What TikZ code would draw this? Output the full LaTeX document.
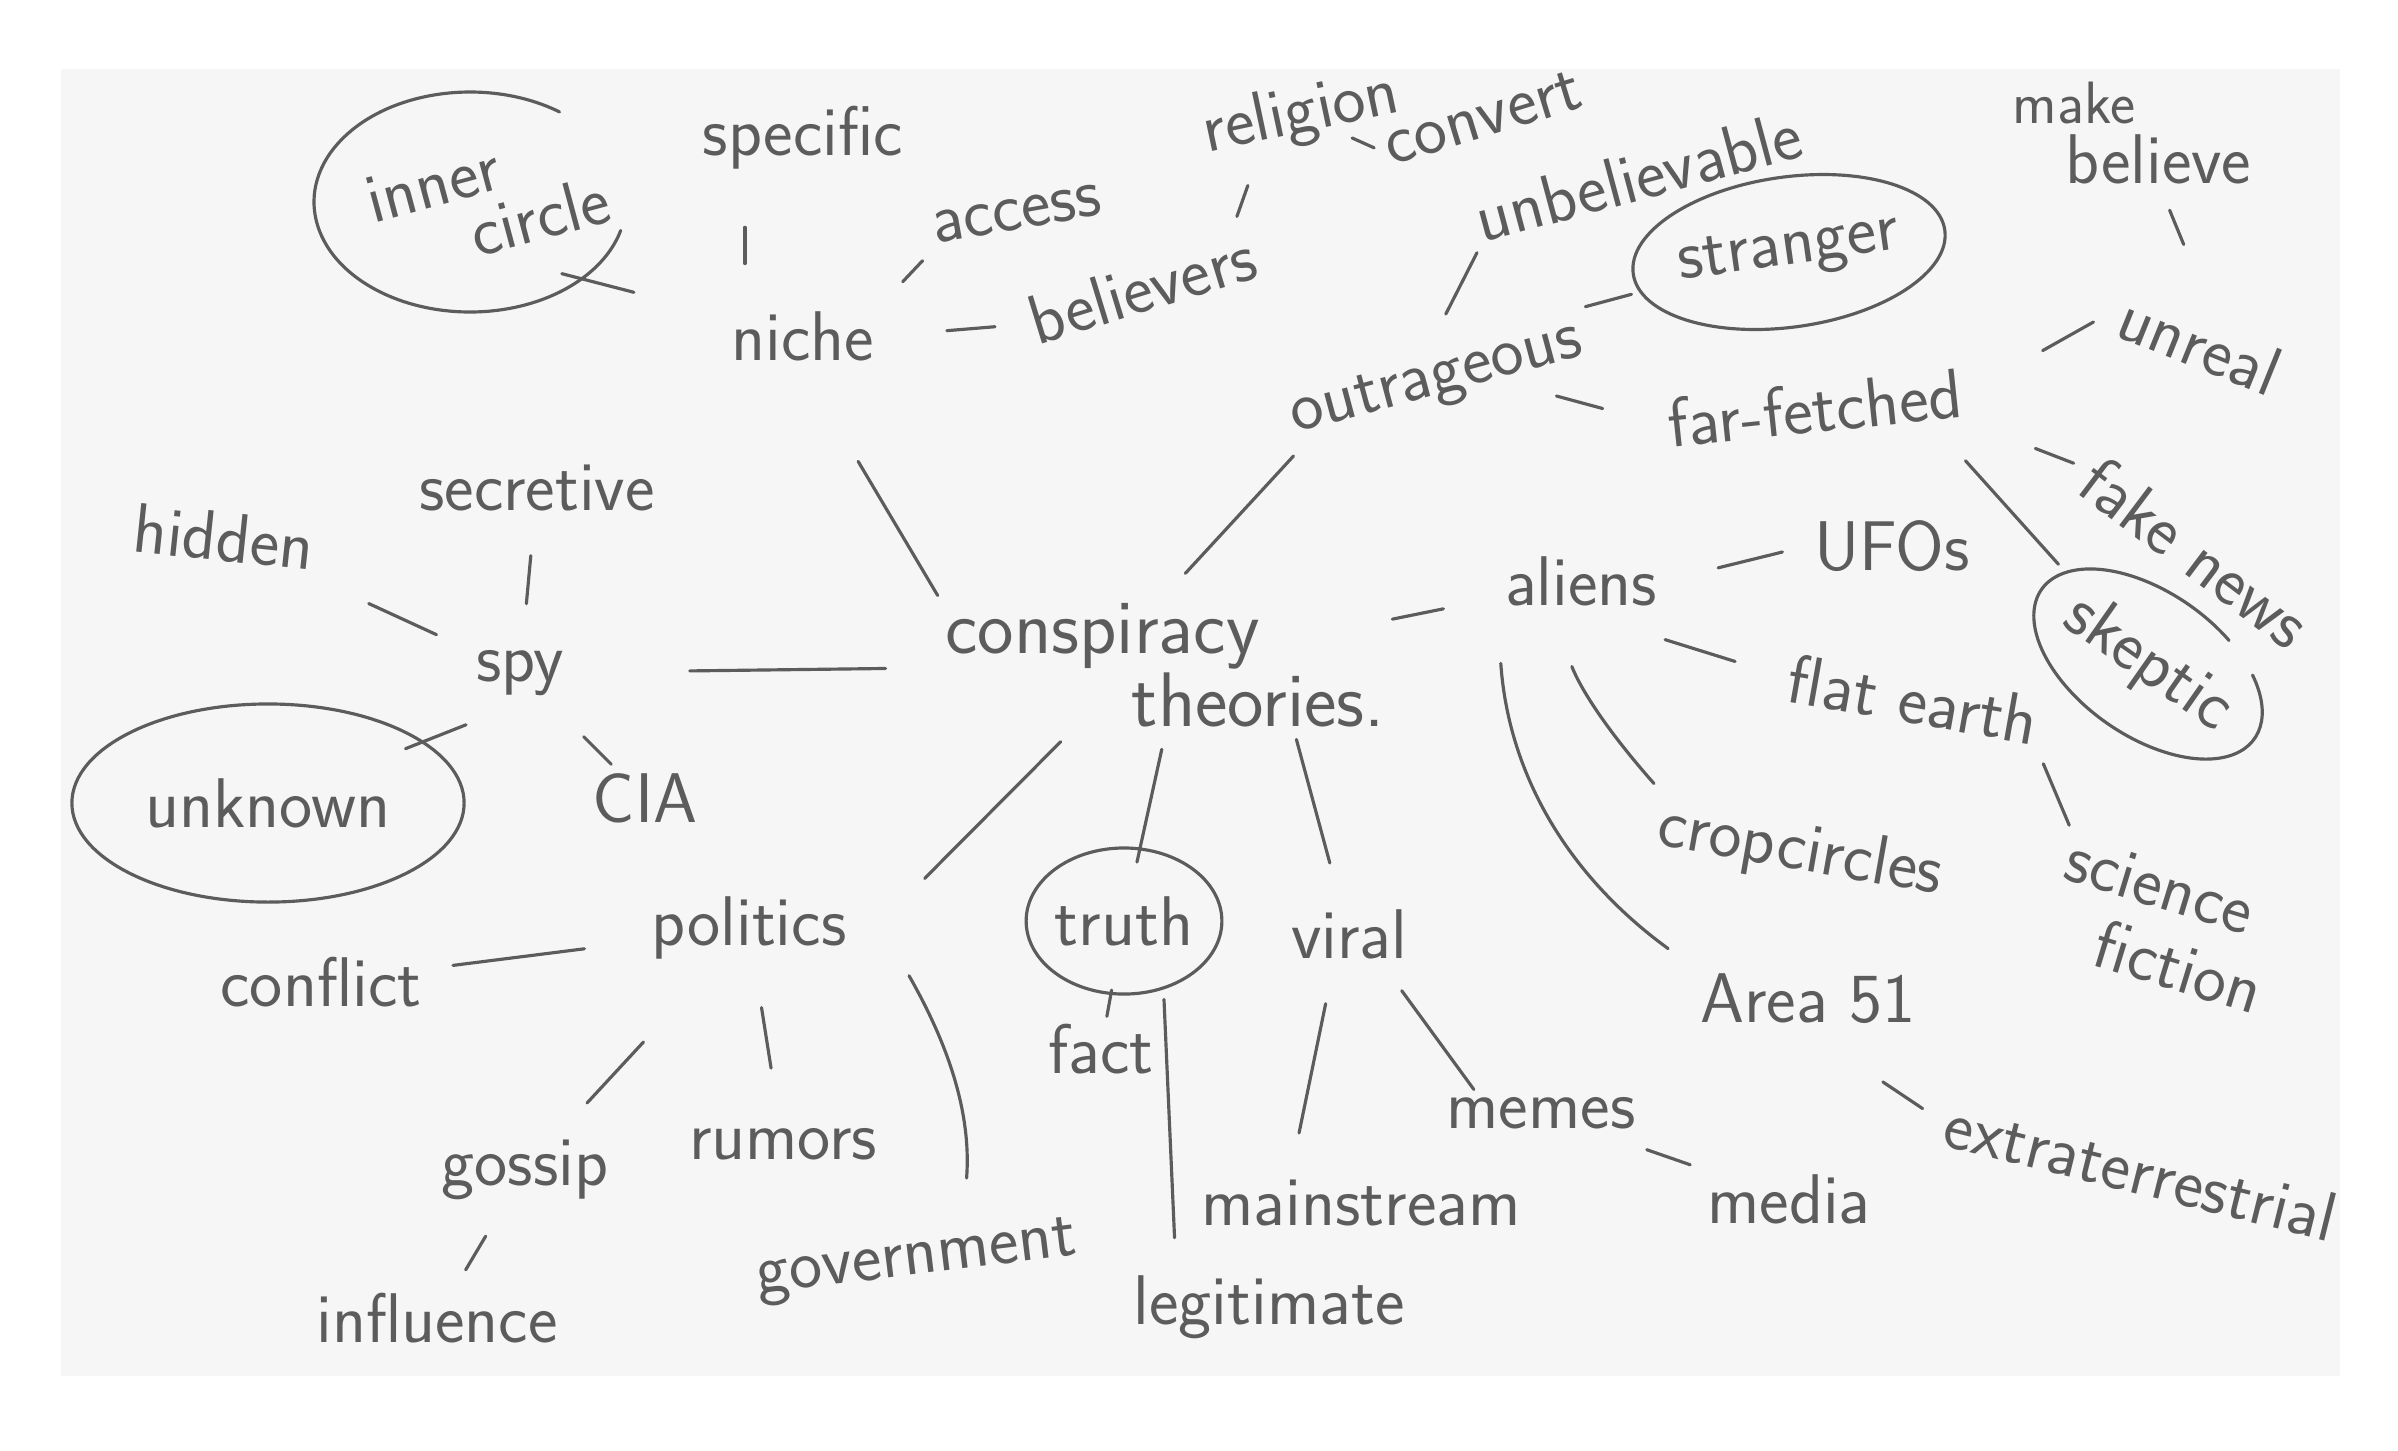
\documentclass[tikz,border=0pt]{standalone}
\usepackage{fontspec}
\usepackage{tikz}
\usetikzlibrary{shapes.geometric,calc}
\definecolor{ink}{HTML}{5C5C5C}
\definecolor{paper}{HTML}{F6F6F6}
\begin{document}
\begin{tikzpicture}[x=0.01cm,y=0.01cm,
  every node/.style={text=ink,font=\sffamily\fontsize{20}{20}\selectfont,inner sep=2pt},
  two/.style={align=left,font=\sffamily\fontsize{20}{17}\selectfont},
  ring/.style={draw=ink,line width=0.9pt,ellipse,inner sep=0pt},
  ln/.style={draw=ink,line width=0.9pt,line cap=round}]
\useasboundingbox (0,0) rectangle (2398,-1450);
\fill[paper] (61,-69) rectangle (2340,-1376);
% upper left: niche and inner circle
\node[two,rotate=15] (innerc) at (488,-200) {inner\\\hspace*{26pt}circle};
\draw[ln,shift={(innerc.center)}] (-18,-2) ++(55:156 and 110) arc[start angle=55,end angle=345,x radius=156,y radius=110];
\node (specific) at (803,-138) {specific};
\node (niche) at (803,-336) {niche};
\node[rotate=10] (access) at (1017,-214) {access};
\node[rotate=17] (believers) at (1142,-288) {believers};
\node[rotate=12] (religion) at (1301,-115) {religion};
\node[rotate=17] (convert) at (1483,-118) {convert};
% upper right: outrageous and far-fetched
\node[rotate=15] (unbeliev) at (1638,-176) {unbelievable};
\node[ring,rotate=8,minimum width=3.1cm,minimum height=1.5cm] (stranger) at (1789,-252) {stranger};
\node[rotate=15] (outrag) at (1437,-382) {outrageous};
\node[rotate=6] (farf) at (1815,-408) {far-fetched};
\node[two] (makeb) at (2132,-133) {\fontsize{17}{17}\selectfont make\\\hspace*{15pt}believe};
\node[rotate=-22] (unreal) at (2200,-344) {unreal};
\node[rotate=-37] (fakenews) at (2196,-552) {fake news};
\node[ellipse,rotate=-35,minimum width=2.6cm,minimum height=1.44cm] (skeptic) at (2148,-664) {skeptic};
\draw[ln,shift={(skeptic.center)},rotate=-35] (66:130 and 72) arc[start angle=66,end angle=405,x radius=130,y radius=72];
% centre
\node[two,font=\sffamily\fontsize{22}{19}\selectfont] (cons) at (1165,-665) {conspiracy\\\hspace*{53pt}theories.};
% right: aliens
\node (aliens) at (1581,-581) {aliens};
\node (ufos) at (1892,-546) {UFOs};
\node[rotate=-10] (flat) at (1913,-699) {flat earth};
\node[two,rotate=-17,font=\sffamily\fontsize{20}{21}\selectfont] (scifi) at (2164,-925) {science\\\hspace*{15pt}fiction};
\node[rotate=-10] (crop) at (1800,-852) {cropcircles};
\node (area) at (1808,-999) {Area 51};
\node[rotate=-14] (extra) at (2141,-1170) {extraterrestrial};
% left: spy
\node[rotate=-6] (hidden) at (224,-537) {hidden};
\node (secretive) at (537,-488) {secretive};
\node (spy) at (520,-673) {spy};
\node[ring,minimum width=3.92cm,minimum height=1.98cm] (unknown) at (268,-803) {unknown};
\node (cia) at (645,-798) {CIA};
% bottom: politics, truth, viral
\node (politics) at (749,-928) {politics};
\node[ring,minimum width=1.84cm,minimum height=1.46cm] (truth) at (1124,-921) {truth};
\node (viral) at (1349,-934) {viral};
\node (conflict) at (321,-982) {conflict};
\node (gossip) at (525,-1170) {gossip};
\node (rumors) at (783,-1144) {rumors};
\node[rotate=7] (govt) at (917,-1262) {government};
\node (influence) at (437,-1318) {influence};
\node (fact) at (1101,-1049) {fact};
\node (legit) at (1269,-1307) {legitimate};
\node (mainstream) at (1361,-1203) {mainstream};
\node (memes) at (1541,-1113) {memes};
\node (media) at (1789,-1199) {media};
% strokes
\draw[ln,shorten <=0.6cm,shorten >=0.93cm] (innerc.south) -- (niche);
\draw[ln,shorten <=0.5cm,shorten >=0.4cm] ([xshift=-0.58cm]specific.south) -- ([xshift=-0.58cm]niche.north);
\draw[ln,shorten <=0.3cm,shorten >=0.1cm] (niche.north east) -- (access.south west);
\draw[ln,shorten <=0.65cm,shorten >=0.28cm] (niche.east) -- (believers.west);
\draw[ln,shorten <=0.43cm,shorten >=0.34cm] ([xshift=0.9cm]believers.north) -- ([xshift=-0.5cm]religion.south);
\draw[ln,shorten <=0.56cm,shorten >=0.05cm] (religion.center) -- (convert.west);
\draw[ln,shorten <=0.39cm] (outrag.north) -- (unbeliev.south west);
\draw[ln,shorten <=0.05cm,shorten >=0.08cm] (outrag.north east) -- (stranger);
\draw[ln,shorten <=0.2cm,shorten >=0.6cm] (outrag.-20) -- (farf.west);
\draw[ln,shorten <=0.2cm,shorten >=0.75cm] ([xshift=0.3cm]makeb.south) -- (unreal.north);
\draw[ln,shorten <=0.84cm,shorten >=0.25cm] (farf.east) -- (unreal.west);
\draw[ln,shorten <=0.67cm,shorten >=0.1cm] (farf.south east) -- (fakenews.west);
\draw[ln,shorten <=0.49cm] ([xshift=-0.4cm]farf.south east) -- (skeptic);
\draw[ln,shorten <=1.08cm] (niche.south) -- (cons.north west);
\draw[ln,shorten >=0.3cm] (outrag.south west) -- (cons.north);
\draw[ln,shorten >=0.55cm] (cons) -- (aliens);
\draw[ln,shorten <=0.55cm,shorten >=0.25cm] (aliens.east) -- (ufos.west);
\draw[ln,shorten <=0.88cm,shorten >=0.48cm] (aliens.south) -- (flat.west);
\draw[ln,shorten <=0.57cm,shorten >=0.05cm] ([xshift=-0.3cm]aliens.south) to[bend right=10] (crop.north west);
\draw[ln,shorten <=0.5cm,shorten >=0.3cm] (aliens.south west) to[bend right=25] (area.north west);
\draw[ln,shorten <=0.1cm] (flat.south east) -- (scifi.north west);
\draw[ln,shorten <=0.9cm,shorten >=0.2cm] (area.south) -- (extra.west);
\draw[ln,shorten <=1.18cm,shorten >=0.52cm] (spy) -- (cons);
\draw[ln,shorten <=0.37cm,shorten >=0.39cm] (secretive) -- (spy);
\draw[ln,shorten <=0.58cm,shorten >=0.35cm] (hidden) -- (spy);
\draw[ln,shorten <=0.58cm,shorten >=-0.2cm] (spy.south) -- (unknown);
\draw[ln,shorten <=0.47cm,shorten >=0.02cm] (spy) -- (cia);
\draw[ln,shorten <=0.1cm,shorten >=0.15cm] ([xshift=1.3cm]cons.south west) -- ([xshift=0.6cm]politics.north east);
\draw[ln,shorten <=0.15cm,shorten >=-0.15cm] (cons.south) -- (truth);
\draw[ln,shorten <=0.05cm,shorten >=0.4cm] ([xshift=1.3cm]cons.south) -- (viral);
\draw[ln,shorten <=0.24cm,shorten >=0.6cm] (conflict) -- (politics);
\draw[ln,shorten <=1.02cm,shorten >=0.4cm] (politics) -- (gossip);
\draw[ln,shorten <=0.41cm,shorten >=0.53cm] (politics) -- (rumors);
\draw[ln,shorten <=0.1cm,shorten >=0.5cm] ([xshift=0.5cm]politics.south east) to[bend left=17] ([xshift=0.5cm]govt.north);
\draw[ln,shorten <=0.33cm,shorten >=0.18cm] (gossip) -- (influence);
\draw[ln,shorten <=-0.05cm] (truth) -- (fact);
\draw[ln,shorten <=0.1cm,shorten >=0.3cm] (truth.-60) -- ([xshift=0.5cm]legit.north west);
\draw[ln,shorten <=0.38cm,shorten >=0.4cm] ([xshift=0.5cm]viral.south west) -- ([xshift=-0.7cm]mainstream.north);
\draw[ln,shorten <=0.3cm] ([xshift=0.35cm]viral.south) -- ([xshift=0.35cm]memes.north west);
\draw[ln,shorten <=0.4cm,shorten >=0.1cm] (memes) -- (media);
\end{tikzpicture}
\end{document}
